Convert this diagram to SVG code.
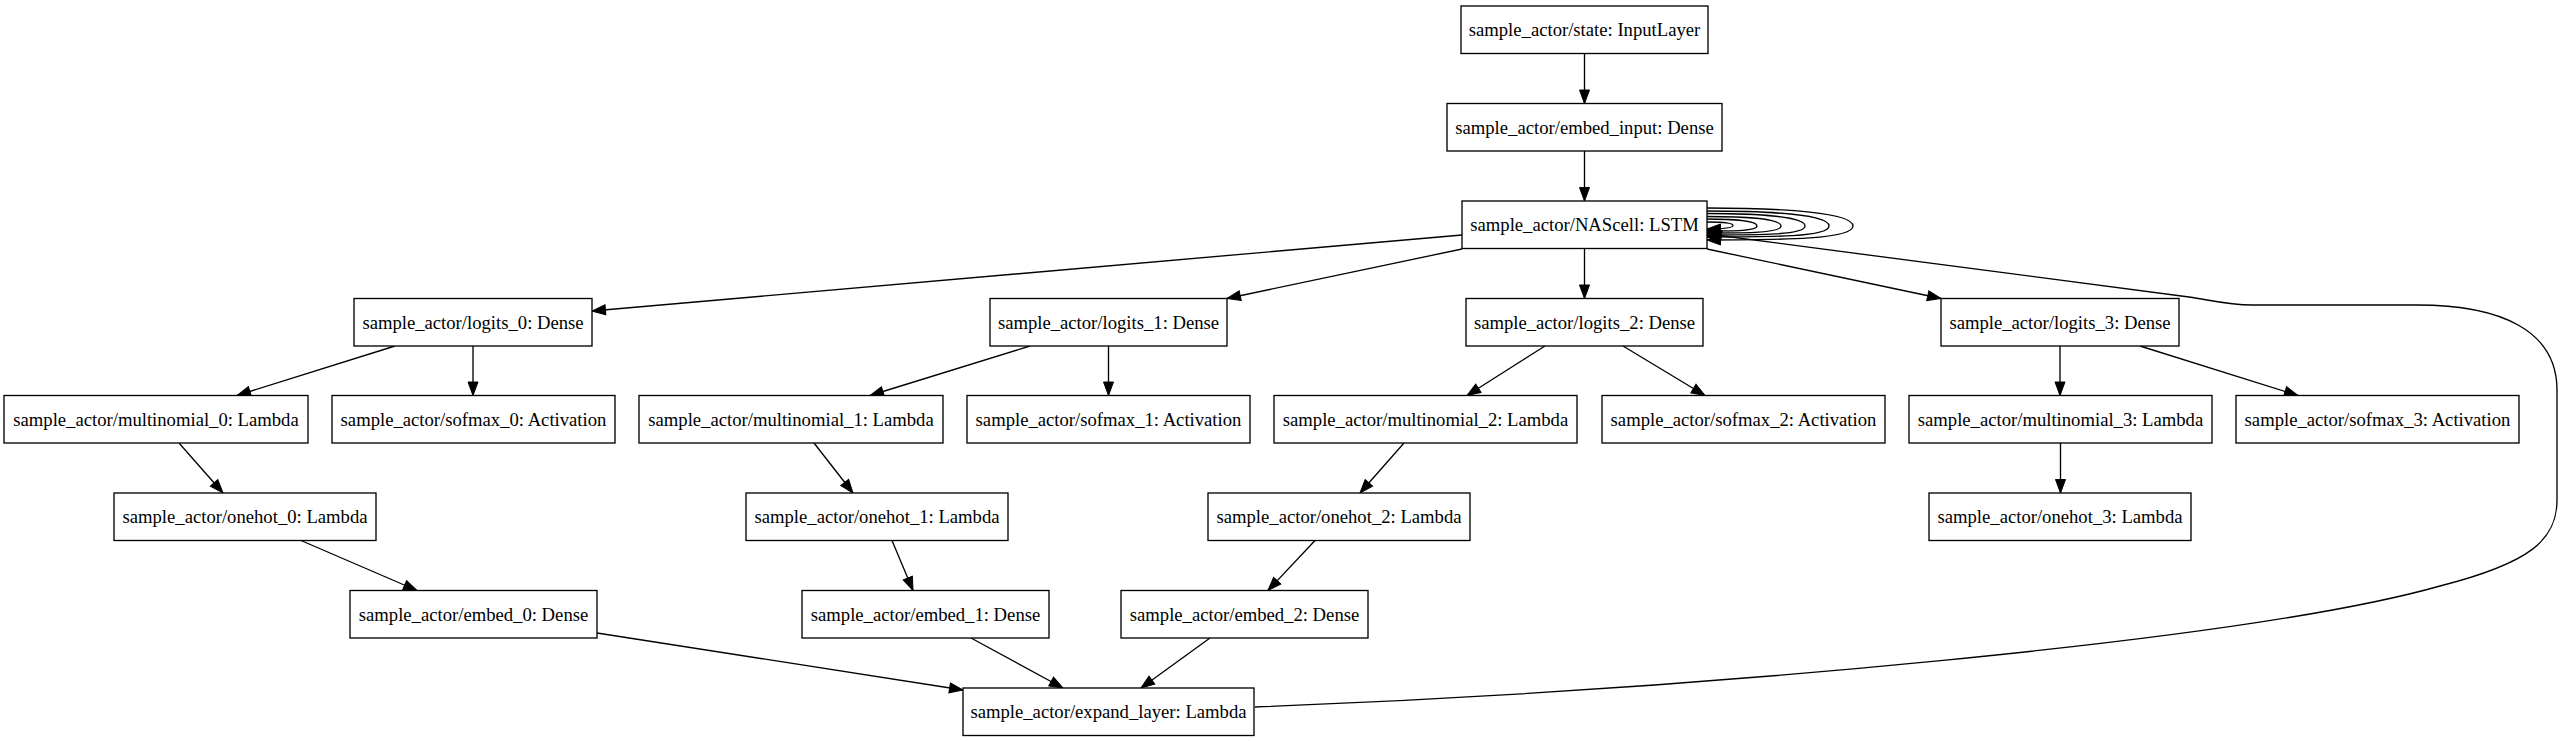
<svg xmlns="http://www.w3.org/2000/svg" width="2562" height="741" viewBox="0 0 2562 741">
<style>
.n rect{fill:#fff;stroke:#000;stroke-width:1.33}
.n text{font-family:"Liberation Serif","Times New Roman",serif;font-size:18.67px;text-anchor:middle;fill:#000}
.e path{fill:none;stroke:#000;stroke-width:1.33;marker-end:url(#ah)}
</style>
<defs>
<marker id="ah" markerUnits="userSpaceOnUse" markerWidth="16" markerHeight="12" refX="14" refY="6" orient="auto" viewBox="0 0 16 12" overflow="visible">
<path d="M0.5,1 L14,6 L0.5,11 z" fill="#000" stroke="#000" stroke-width="1"/>
</marker>
</defs>
<rect width="2562" height="741" fill="#fff"/>
<g id="connectors" class="e">
<path d="M1584.5,53.5 L1584.5,103.5"/>
<path d="M1584.5,151 L1584.5,201"/>
<path d="M1462,235 L592,311"/>
<path d="M1462,249 L1227,298.5"/>
<path d="M1584.5,248.5 L1584.5,298.5"/>
<path d="M1707,249 L1941,298.5"/>
<path d="M1707,222 C1721,222 1733,223 1733,225.5 C1733,228 1721,229 1707,229"/>
<path d="M1707,219 C1734,219 1757,221 1757,226 C1757,231 1734,231 1707,231"/>
<path d="M1707,216.5 C1747,216.5 1781,219 1781,226 C1781,233 1747,233 1707,233"/>
<path d="M1707,213.5 C1760,213.5 1805,217 1805,226 C1805,235 1760,235 1707,235"/>
<path d="M1707,211 C1773,211 1829,215 1829,226 C1829,237 1773,237 1707,237"/>
<path d="M1707,208 C1786,208 1853,213 1853,226 C1853,239 1786,240 1707,240"/>
<path d="M1255,707 C1700,690 2250,640 2440,586 C2530,563 2557,540 2557,500 L2557,390 C2557,330 2500,305 2417,305 L2252,305 C2228,305 2210,300 2189,297 L1708,234"/>
<path d="M395,346 L237,395.5"/>
<path d="M473,346 L473,395.5"/>
<path d="M179,443 L223,493"/>
<path d="M301,540.5 L417,590.5"/>
<path d="M597,633 L963,690"/>
<path d="M1030,346 L870,395.5"/>
<path d="M1108.5,346 L1108.5,395.5"/>
<path d="M814,443 L853,493"/>
<path d="M892,540.5 L913,590.5"/>
<path d="M971,638 L1063,688"/>
<path d="M1545,346 L1467,395.5"/>
<path d="M1623,346 L1705,395.5"/>
<path d="M1404,443 L1360,493"/>
<path d="M1315,540.5 L1268,590.5"/>
<path d="M1210,638 L1141,688"/>
<path d="M2060,346 L2060,395.5"/>
<path d="M2140,346 L2298,395.5"/>
<path d="M2060.5,443 L2060.5,493"/>
</g>
<g id="state" class="n"><rect x="1461" y="6" width="247" height="47.5"/><text x="1584.5" y="36">sample_actor/state: InputLayer</text></g>
<g id="embed_input" class="n"><rect x="1447" y="103.5" width="275" height="47.5"/><text x="1584.5" y="133.5">sample_actor/embed_input: Dense</text></g>
<g id="NAScell" class="n"><rect x="1462" y="201" width="245" height="47.5"/><text x="1584.5" y="231">sample_actor/NAScell: LSTM</text></g>
<g id="logits_0" class="n"><rect x="354" y="298.5" width="238" height="47.5"/><text x="473" y="328.5">sample_actor/logits_0: Dense</text></g>
<g id="logits_1" class="n"><rect x="990" y="298.5" width="237" height="47.5"/><text x="1108.5" y="328.5">sample_actor/logits_1: Dense</text></g>
<g id="logits_2" class="n"><rect x="1466" y="298.5" width="237" height="47.5"/><text x="1584.5" y="328.5">sample_actor/logits_2: Dense</text></g>
<g id="logits_3" class="n"><rect x="1941" y="298.5" width="238" height="47.5"/><text x="2060" y="328.5">sample_actor/logits_3: Dense</text></g>
<g id="multinomial_0" class="n"><rect x="4" y="395.5" width="304" height="47.5"/><text x="156" y="425.5">sample_actor/multinomial_0: Lambda</text></g>
<g id="sofmax_0" class="n"><rect x="332" y="395.5" width="283" height="47.5"/><text x="473.5" y="425.5">sample_actor/sofmax_0: Activation</text></g>
<g id="multinomial_1" class="n"><rect x="639" y="395.5" width="304" height="47.5"/><text x="791" y="425.5">sample_actor/multinomial_1: Lambda</text></g>
<g id="sofmax_1" class="n"><rect x="967" y="395.5" width="283" height="47.5"/><text x="1108.5" y="425.5">sample_actor/sofmax_1: Activation</text></g>
<g id="multinomial_2" class="n"><rect x="1274" y="395.5" width="303" height="47.5"/><text x="1425.5" y="425.5">sample_actor/multinomial_2: Lambda</text></g>
<g id="sofmax_2" class="n"><rect x="1602" y="395.5" width="283" height="47.5"/><text x="1743.5" y="425.5">sample_actor/sofmax_2: Activation</text></g>
<g id="multinomial_3" class="n"><rect x="1909" y="395.5" width="303" height="47.5"/><text x="2060.5" y="425.5">sample_actor/multinomial_3: Lambda</text></g>
<g id="sofmax_3" class="n"><rect x="2236" y="395.5" width="283" height="47.5"/><text x="2377.5" y="425.5">sample_actor/sofmax_3: Activation</text></g>
<g id="onehot_0" class="n"><rect x="114" y="493" width="262" height="47.5"/><text x="245" y="523">sample_actor/onehot_0: Lambda</text></g>
<g id="onehot_1" class="n"><rect x="746" y="493" width="262" height="47.5"/><text x="877" y="523">sample_actor/onehot_1: Lambda</text></g>
<g id="onehot_2" class="n"><rect x="1208" y="493" width="262" height="47.5"/><text x="1339" y="523">sample_actor/onehot_2: Lambda</text></g>
<g id="onehot_3" class="n"><rect x="1929" y="493" width="262" height="47.5"/><text x="2060" y="523">sample_actor/onehot_3: Lambda</text></g>
<g id="embed_0" class="n"><rect x="350" y="590.5" width="247" height="47.5"/><text x="473.5" y="620.5">sample_actor/embed_0: Dense</text></g>
<g id="embed_1" class="n"><rect x="802" y="590.5" width="247" height="47.5"/><text x="925.5" y="620.5">sample_actor/embed_1: Dense</text></g>
<g id="embed_2" class="n"><rect x="1121" y="590.5" width="247" height="47.5"/><text x="1244.5" y="620.5">sample_actor/embed_2: Dense</text></g>
<g id="expand_layer" class="n"><rect x="963" y="688" width="291" height="47.5"/><text x="1108.5" y="718">sample_actor/expand_layer: Lambda</text></g>
</svg>
